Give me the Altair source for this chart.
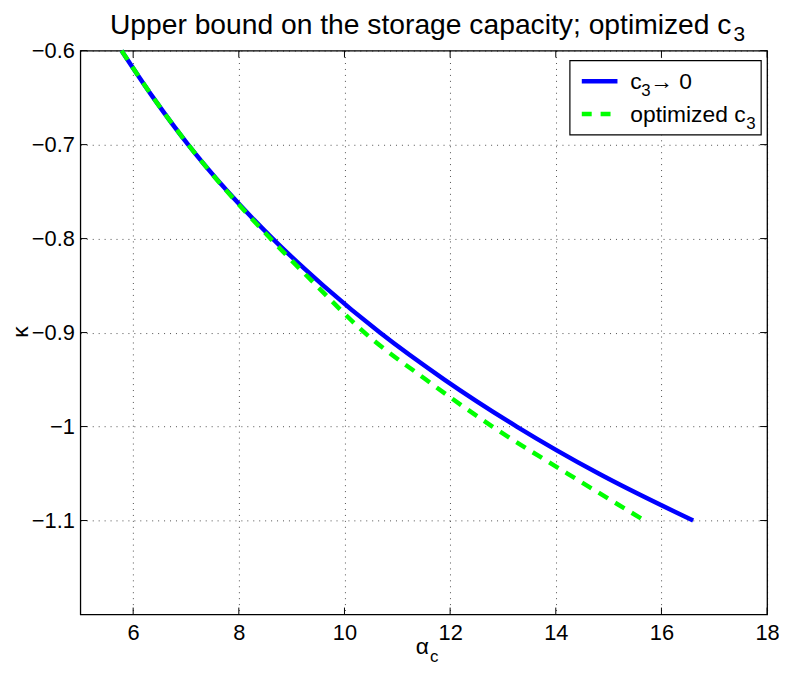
import altair as alt
import pandas as pd

# ---- data ----
kappa = [-0.6, -0.65, -0.7, -0.75, -0.8, -0.85, -0.9, -0.95, -1.0, -1.05, -1.1]
alpha_c3_zero = [5.78, 6.38, 7.04, 7.79, 8.64, 9.60, 10.67, 11.89, 13.26, 14.81, 16.60]
alpha_opt = [5.78, 6.38, 7.04, 7.78, 8.60, 9.47, 10.38, 11.54, 12.80, 14.22, 15.68]
legend_main = ["c", "optimized c"]
legend_sub = ["3", "3"]
legend_tail = ["\u2192 0", ""]
x_ticks = [6, 8, 10, 12, 14, 16, 18]
y_ticks = [-0.6, -0.7, -0.8, -0.9, -1.0, -1.1]
title_main = "Upper bound on the storage capacity; optimized c"
title_sub = "3"

FONT = "Liberation Sans"
W, H = 693, 569
BLUE = "#0000ff"
GREEN = "#00ff00"

xs = alt.Scale(domain=[5, 18], nice=False, zero=False)
ys = alt.Scale(domain=[-1.2, -0.6], nice=False, zero=False)

df_blue = pd.DataFrame({"kappa": kappa, "alpha": alpha_c3_zero})
df_green = pd.DataFrame({"kappa": kappa, "alpha": alpha_opt})

x_axis = alt.Axis(values=x_ticks, title=None, grid=True, gridDash=[1, 5],
                  gridColor="#000000", gridOpacity=0.7, ticks=False, domain=False,
                  labelFontSize=22, labelFont=FONT, labelColor="#000000",
                  labelPadding=8, labelFlush=False, format="d")
y_axis = alt.Axis(values=y_ticks, title=None, grid=True, gridDash=[1, 5],
                  gridColor="#000000", gridOpacity=0.7, ticks=False, domain=False,
                  labelFontSize=22, labelFont=FONT, labelColor="#000000",
                  labelPadding=6, labelFlush=False, format="~g")

blue = alt.Chart(df_blue).mark_line(color=BLUE, strokeWidth=4.5, interpolate="monotone").encode(
    x=alt.X("alpha:Q", scale=xs, axis=x_axis),
    y=alt.Y("kappa:Q", scale=ys, axis=y_axis),
)
green = alt.Chart(df_green).mark_line(color=GREEN, strokeWidth=4.5, strokeDash=[11, 8.5],
                                      interpolate="monotone").encode(
    x=alt.X("alpha:Q", scale=xs, axis=x_axis),
    y=alt.Y("kappa:Q", scale=ys, axis=y_axis),
)

# inner tick marks (MATLAB style)
dfx = pd.DataFrame({"alpha": x_ticks})
dfy = pd.DataFrame({"kappa": y_ticks})
tick_b = alt.Chart(dfx).mark_rule(color="black", strokeWidth=1).encode(
    x=alt.X("alpha:Q", scale=xs, axis=x_axis), y=alt.value(H), y2=alt.value(H - 7))
tick_t = alt.Chart(dfx).mark_rule(color="black", strokeWidth=1).encode(
    x=alt.X("alpha:Q", scale=xs, axis=x_axis), y=alt.value(0), y2=alt.value(7))
tick_l = alt.Chart(dfy).mark_rule(color="black", strokeWidth=1).encode(
    y=alt.Y("kappa:Q", scale=ys, axis=y_axis), x=alt.value(0), x2=alt.value(7))
tick_r = alt.Chart(dfy).mark_rule(color="black", strokeWidth=1).encode(
    y=alt.Y("kappa:Q", scale=ys, axis=y_axis), x=alt.value(W), x2=alt.value(W - 7))


def txt(text, x, y, size, angle=0, align="center", baseline="alphabetic"):
    return alt.Chart(pd.DataFrame({"t": [text]})).mark_text(
        fontSize=size, font=FONT, align=align, baseline=baseline, angle=angle, color="black"
    ).encode(x=alt.value(x), y=alt.value(y), text="t:N")


one = pd.DataFrame({"a": [0]})
legend_box = alt.Chart(one).mark_rect(fill="white", stroke="black", strokeWidth=1.2).encode(
    x=alt.value(494), x2=alt.value(687), y=alt.value(10), y2=alt.value(85))
leg_line1 = alt.Chart(one).mark_rule(color=BLUE, strokeWidth=4.5).encode(
    x=alt.value(506), x2=alt.value(542), y=alt.value(31))
leg_line2 = alt.Chart(one).mark_rule(color=GREEN, strokeWidth=4.5, strokeDash=[10, 9]).encode(
    x=alt.value(506), x2=alt.value(542), y=alt.value(64))
leg_texts = [
    txt(legend_main[0], 555, 39, 23, align="left"),
    txt(legend_sub[0], 566, 46, 17, align="left"),
    txt(legend_tail[0], 575, 39, 23, align="left"),
    txt(legend_main[1], 555, 72, 23, align="left"),
    txt(legend_sub[1], 672, 79, 17, align="left"),
]

title_layers = [
    txt(title_main, 657, -17, 28.5, align="right"),
    txt(title_sub, 659, -10, 21, align="left"),
]
ylab = txt("\u03ba", -60, 284, 23, angle=270, baseline="middle")
xlab_a = txt("\u03b1", 345, H + 40, 23)
xlab_c = txt("c", 357, H + 48, 17)

chart = alt.layer(
    blue, green, tick_b, tick_t, tick_l, tick_r,
    legend_box, leg_line1, leg_line2, *leg_texts,
    *title_layers, ylab, xlab_a, xlab_c,
).properties(
    width=W, height=H,
    padding={"left": 73, "top": 40, "right": 12, "bottom": 56},
    autosize=alt.AutoSizeParams(type="none"),
    background="white",
).configure_view(stroke="black", strokeWidth=1.3)

chart.save("out.html", embed_options={"renderer": "svg", "actions": False})
